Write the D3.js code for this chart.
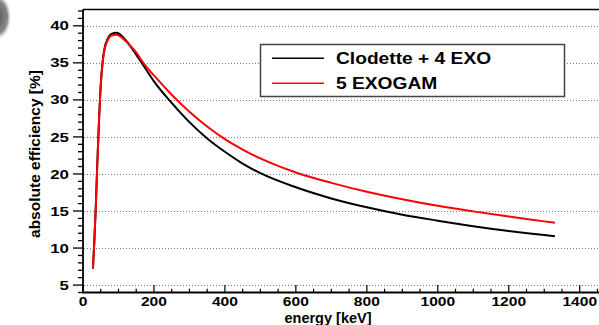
<!DOCTYPE html>
<html><head><meta charset="utf-8">
<script src="https://cdn.jsdelivr.net/npm/d3@7"></script>
<style>
html,body{margin:0;padding:0;background:#fff;overflow:hidden}
svg{display:block}
text{font-family:"Liberation Sans",Arial,Helvetica,sans-serif;font-weight:bold;fill:#000}
</style></head>
<body>
<svg id="c" width="599" height="325"></svg>
<script>
// ---- data ----
const energyClodette = [28, 32, 36, 40, 45, 50, 55, 60, 70, 80, 95, 110, 125, 150, 175, 200, 250, 300, 350, 400, 450, 500, 600, 700, 800, 900, 1000, 1100, 1200, 1300, 1330];
const effClodette    = [7.2, 11, 15.5, 21, 27, 32, 35, 36.8, 38.3, 38.9, 39.05, 38.6, 37.8, 36.1, 34.3, 32.5, 29.6, 27.0, 24.8, 23.0, 21.4, 20.1, 18.2, 16.7, 15.5, 14.5, 13.7, 12.95, 12.3, 11.75, 11.6];
const energyExogam   = [28, 32, 36, 40, 45, 50, 55, 60, 70, 80, 95, 110, 125, 150, 170, 200, 250, 300, 350, 400, 450, 500, 600, 700, 800, 900, 1000, 1100, 1200, 1300, 1330];
const effExogam      = [7.2, 11, 15.5, 21, 27, 32, 34.9, 36.6, 38.1, 38.7, 38.8, 38.4, 37.7, 36.4, 35, 33.3, 30.7, 28.4, 26.4, 24.7, 23.3, 22.1, 20.2, 18.8, 17.6, 16.6, 15.7, 14.95, 14.25, 13.6, 13.4];
const seriesNames = ["Clodette + 4 EXO", "5 EXOGAM"];
const seriesColors = ["#000000", "#ff0000"];
const xTicks = [0, 200, 400, 600, 800, 1000, 1200, 1400];
const yTicks = [5, 10, 15, 20, 25, 30, 35, 40];
const xTitle = "energy [keV]";
const yTitle = "absolute efficiency [%]";

// ---- layout ----
const svg = d3.select("#c");
const L = 83, R = 601, T = 9.5, B = 292.5;
const x = d3.scaleLinear().domain([0, 1460]).range([L, R]);
const y = d3.scaleLinear().domain([4, 42.2]).range([B, T]);

// corner blob
const defs = svg.append("defs");
const rg = defs.append("radialGradient").attr("id","blob");
rg.append("stop").attr("offset","0%").attr("stop-color","#555");
rg.append("stop").attr("offset","70%").attr("stop-color","#888");
rg.append("stop").attr("offset","100%").attr("stop-color","#fff").attr("stop-opacity",0);
svg.append("ellipse").attr("cx",-3).attr("cy",17).attr("rx",15).attr("ry",24).attr("fill","url(#blob)");

// gridlines (horizontal)
svg.append("g").selectAll("line").data(yTicks).join("line")
  .attr("x1", L+1).attr("x2", 599).attr("y1", d => Math.round(y(d))+0.5).attr("y2", d => Math.round(y(d))+0.5)
  .attr("stroke", "#777").attr("stroke-width", 1).attr("stroke-dasharray", "1,2");

// frame lines
svg.append("line").attr("x1", L).attr("x2", 599).attr("y1", T).attr("y2", T).attr("stroke","#000").attr("stroke-width",1.5);
svg.append("line").attr("x1", L).attr("x2", L).attr("y1", T).attr("y2", B).attr("stroke","#000").attr("stroke-width",1.8);

// y axis ticks (outside left)
const yMinor = d3.range(4, 43, 1);
svg.append("g").selectAll("line").data(yMinor).join("line")
  .attr("x1", d => yTicks.includes(d) ? L-10 : L-5).attr("x2", L)
  .attr("y1", d => y(d)).attr("y2", d => y(d))
  .attr("stroke", "#000").attr("stroke-width", 1.3);
svg.append("g").selectAll("text").data(yTicks).join("text")
  .attr("transform", d => `translate(69,${y(d)+4.6}) scale(1.3,1)`)
  .attr("text-anchor","end").attr("font-size", 13).text(d => d);

// x axis ticks (inside)
const xMinor = d3.range(0, 1451, 50);
svg.append("g").selectAll("line").data(xMinor).join("line")
  .attr("x1", d => x(d)).attr("x2", d => x(d))
  .attr("y1", B).attr("y2", d => d % 200 === 0 ? B-7.5 : B-3.8)
  .attr("stroke", "#000").attr("stroke-width", 1.2);
svg.append("line").attr("x1", L-1).attr("x2", 599).attr("y1", B).attr("y2", B).attr("stroke","#000").attr("stroke-width",2);
svg.append("g").selectAll("text").data(xTicks).join("text")
  .attr("transform", d => `translate(${x(d)},305.5) scale(1.2,1)`)
  .attr("text-anchor","middle").attr("font-size", 13).text(d => d);

// titles
svg.append("text").attr("x", 328).attr("y", 322.5).attr("text-anchor","middle").attr("font-size", 14.5).text(xTitle);
svg.append("text").attr("transform", "translate(40,154) rotate(-90)").attr("text-anchor","middle").attr("font-size", 15.5).text(yTitle);

// curves
const line = d3.line().x(d => x(d[0])).y(d => y(d[1])).curve(d3.curveMonotoneX);
const data = [
  d3.zip(energyClodette, effClodette),
  d3.zip(energyExogam, effExogam)
];
svg.append("g").selectAll("path").data(data).join("path")
  .attr("d", line).attr("fill","none")
  .attr("stroke", (d,i) => seriesColors[i]).attr("stroke-width", 2);

// legend
svg.append("rect").attr("x", 260.5).attr("y", 44.5).attr("width", 304).attr("height", 52)
  .attr("fill","#fff").attr("stroke","#444").attr("stroke-width",1.5);
seriesNames.forEach((n,i) => {
  const ly = 58.3 + i*25;
  svg.append("line").attr("x1", 272).attr("x2", 324).attr("y1", ly).attr("y2", ly)
    .attr("stroke", seriesColors[i]).attr("stroke-width", 1.5);
  svg.append("text").attr("transform", `translate(336,${ly+5.8}) scale(1.2,1)`)
    .attr("font-size", 16).text(n);
});
</script>
</body></html>
